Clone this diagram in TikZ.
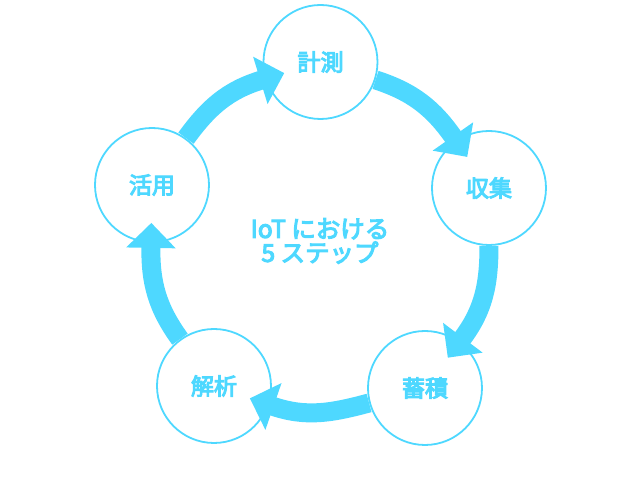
\documentclass[tikz,border=0pt]{standalone}
\usepackage{fontspec}
\newfontfamily\jpbold{Noto Sans CJK JP}[FakeBold=4.5]
\usetikzlibrary{arrows.meta}
\definecolor{iotblue}{RGB}{78,216,255}

\begin{document}
\begin{tikzpicture}[x=1pt,y=1pt,
    stepnode/.style={circle, draw=iotblue, line width=1.8pt, fill=white,
      minimum size=114pt, inner sep=0pt, text=iotblue,
      font=\jpbold\fontsize{23}{23}\selectfont},
    flow/.style={iotblue, line width=19pt,
      -{Triangle[width=48pt,length=25pt]}, shorten >=-20pt}]
  \useasboundingbox (-320,-239) rectangle (321,242);
  \node[stepnode] (keisoku) at (0.5,180) {計測};
  \node[stepnode] (shushu) at (169,54) {収集};
  \node[stepnode] (chikuseki) at (105,-146) {蓄積};
  \node[stepnode] (kaiseki) at (-106,-144) {解析};
  \node[stepnode] (katsuyo) at (-168,57) {活用};
  \node[text=iotblue, align=center, font=\jpbold\fontsize{24.5}{24}\selectfont]
    (title) at (0,1) {IoT における\\5 ステップ};
  % the five steps, clockwise
  \draw[flow] (keisoku) to[out=-18,in=125] (shushu);
  \draw[flow] (shushu) to[out=-90,in=53] (chikuseki);
  \draw[flow] (chikuseki) to[out=-165,in=-19] (kaiseki);
  \draw[flow] (kaiseki) to[out=126,in=-91] (katsuyo);
  \draw[flow] (katsuyo) to[out=54,in=197] (keisoku);
\end{tikzpicture}
\end{document}
